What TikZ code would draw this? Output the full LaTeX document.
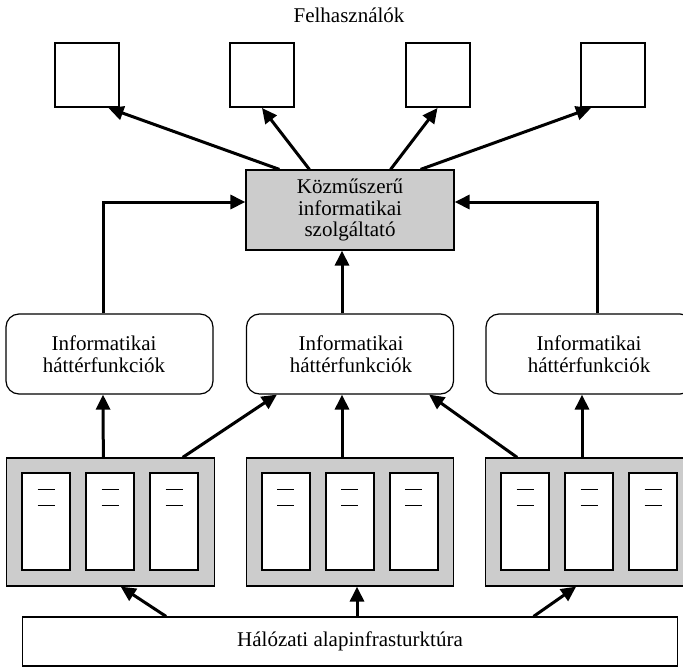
\documentclass[tikz,border=0pt]{standalone}
\usepackage{fontspec}
\setmainfont{Liberation Serif}
\usetikzlibrary{arrows.meta,calc}
\definecolor{boxgray}{RGB}{204,204,204}
\tikzset{
  txt/.style={font=\fontsize{21}{21.5}\selectfont, align=center, inner sep=0pt},
  user/.style={draw, line width=2pt, minimum width=64pt, minimum height=64pt, inner sep=0pt},
  central/.style={draw, line width=1.2pt, fill=boxgray, minimum width=208pt, minimum height=80pt, inner sep=0pt, txt},
  hbox/.style={draw, line width=1.2pt, rounded corners=13pt, minimum width=207pt, minimum height=80pt, inner sep=0pt},
  group/.style={draw, line width=1.2pt, fill=boxgray, minimum width=207.5pt, minimum height=128pt, inner sep=0pt},
  rack/.style={draw, line width=2pt, fill=white, minimum width=48pt, minimum height=97pt, inner sep=0pt},
  dashline/.style={line width=1pt},
  netbox/.style={draw, line width=1.2pt, minimum width=654.6pt, minimum height=49pt, inner sep=0pt, txt},
  arr/.style={line width=3pt, -{Triangle[length=15pt,width=14pt]}}
}
\begin{document}
\begin{tikzpicture}[x=1pt,y=-1pt]
\useasboundingbox (0,0) rectangle (683,667);
\clip (0,0) rectangle (683,667);

% title
\node[txt] (title) at (349,15) {Felhasználók};

% users
\node[user] (u1) at (86.5,75) {};
\node[user] (u2) at (262,75) {};
\node[user] (u3) at (437.5,75) {};
\node[user] (u4) at (613,75) {};

% central provider
\node[central] (c) at (350,210) {Közműszerű\\informatikai\\szolgáltató};

% background function boxes
\node[hbox] (h1) at (109.5,354) {};
\node[hbox] (h2) at (350,354) {};
\node[hbox] (h3) at (589.5,354) {};
\node[txt] (t1) at (104,354) {Informatikai\\háttérfunkciók};
\node[txt] (t2) at (351,354) {Informatikai\\háttérfunkciók};
\node[txt] (t3) at (589,354) {Informatikai\\háttérfunkciók};

% server groups
\node[group] (g1) at (110.35,522) {};
\node[group] (g2) at (350,522) {};
\node[group] (g3) at (589.5,522) {};
\foreach \g in {g1,g2,g3}{
  \foreach \k/\o in {1/40,2/104,3/168}{
    \node[rack] (\g r\k) at ($(\g.west)+(\o,-0.5)$) {};
    \draw[dashline] ($(\g r\k.north)+(-8.5,17)$) -- ++(17,0);
    \draw[dashline] ($(\g r\k.north)+(-8.5,33)$) -- ++(17,0);
  }
}

% network infrastructure
\node[netbox] (n) at (350,641.5) {Hálózati alapinfrasturktúra};

% arrows: central -> users
\draw[arr] ($(c.north west)+(34,0)$) -- ($(u1.south east)+(-11,0)$);
\draw[arr] ($(c.north west)+(64,0)$) -- (u2.south);
\draw[arr] ($(c.north east)+(-64,0)$) -- (u3.south);
\draw[arr] ($(c.north east)+(-34,0)$) -- ($(u4.south west)+(11,0)$);

% arrows: background functions -> central
\draw[arr] ($(h1.north)+(-6.5,0)$) |- ($(c.west)+(0,-8)$);
\draw[arr] ($(h3.north)+(7.5,0)$) |- ($(c.east)+(0,-8)$);
\draw[arr] ($(h2.north)+(-8,0)$) -- ($(c.south)+(-8,0)$);

% arrows: server groups -> background functions
\draw[arr] ($(g1.north)+(-7,0)$) -- ($(h1.south)+(-6.5,0)$);
\draw[arr] ($(g1.north east)+(-32,0)$) -- ($(h2.south west)+(31,0)$);
\draw[arr] ($(g2.north)+(-8,0)$) -- ($(h2.south)+(-8,0)$);
\draw[arr] ($(g3.north west)+(32,0)$) -- ($(h2.south east)+(-25,0)$);
\draw[arr] ($(g3.north)+(-7.5,0)$) -- ($(h3.south)+(-7.5,0)$);

% arrows: network -> server groups
\draw[arr] ($(n.north west)+(144,0)$) -- ($(g1.south east)+(-94,0)$);
\draw[arr] ($(n.north)+(7,0)$) -- ($(g2.south)+(7,0)$);
\draw[arr] ($(n.north east)+(-144.3,0)$) -- ($(g3.south west)+(91,0)$);
\end{tikzpicture}
\end{document}
